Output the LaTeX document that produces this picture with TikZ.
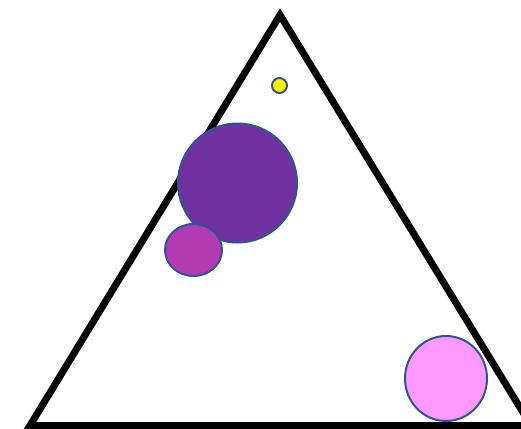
\documentclass[tikz,border=0pt]{standalone}
\usepackage{tikz}
\definecolor{bubbleline}{HTML}{2F5597}
\definecolor{deeppurple}{HTML}{7030A0}
\definecolor{midmagenta}{HTML}{B43AB4}
\definecolor{lightpink}{HTML}{FF99FF}
\tikzset{bubble/.style={draw=bubbleline, line width=2pt}}
\begin{document}
\begin{tikzpicture}[x=1pt, y=-1pt]
          \useasboundingbox (0, 0) rectangle (521, 428);
          \clip (0, 0) rectangle (521, 428);
          % triangle
          \draw[line width=7pt, miter limit=10] (30, 425.5) -- (280, 15) -- (531, 425.5) -- cycle;
          % circles
          \draw[bubble, fill=yellow] (279.5, 85.5) circle (7.5);
          \draw[bubble, fill=deeppurple] (237.5, 183) circle (59.5);
          \draw[bubble, fill=midmagenta] (193.5, 250) ellipse (28.5 and 26);
          \draw[bubble, fill=lightpink] (446, 378.5) ellipse (41 and 42.5);
      \end{tikzpicture}
\end{document}
